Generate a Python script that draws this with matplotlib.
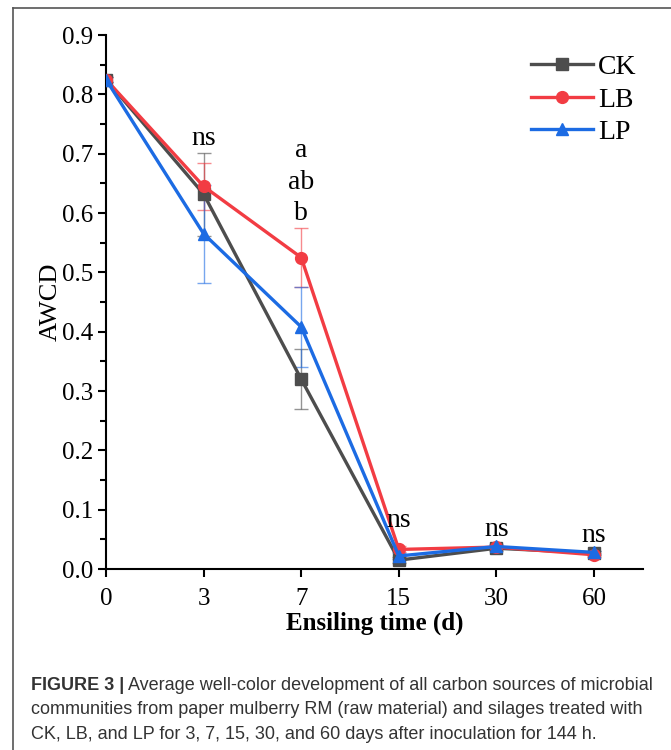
import matplotlib
matplotlib.use("Agg")
import matplotlib.pyplot as plt
from matplotlib.lines import Line2D
from matplotlib.ticker import MultipleLocator

days = ["0", "3", "7", "15", "30", "60"]
ck = [0.825, 0.632, 0.320, 0.015, 0.035, 0.027]
lb = [0.825, 0.645, 0.525, 0.033, 0.037, 0.024]
lp = [0.825, 0.565, 0.408, 0.022, 0.038, 0.028]
ck_err = [0.004, 0.070, 0.050, 0.005, 0.004, 0.003]
lb_err = [0.004, 0.040, 0.050, 0.005, 0.004, 0.003]
lp_err = [0.004, 0.083, 0.067, 0.005, 0.004, 0.003]

# significance letters: (x index, y value, text)
sig_labels = [(1, 0.726, "ns"), (2, 0.706, "a"), (2, 0.652, "ab"), (2, 0.600, "b"),
              (3, 0.081, "ns"), (4, 0.067, "ns"), (5, 0.057, "ns")]

caption_bold = "FIGURE 3 |"
caption_lines = [
    " Average well-color development of all carbon sources of microbial",
    "communities from paper mulberry RM (raw material) and silages treated with",
    "CK, LB, and LP for 3, 7, 15, 30, and 60 days after inoculation for 144 h.",
]

serif = ["Liberation Serif", "DejaVu Serif"]
colors = {"CK": "#4d4d4d", "LB": "#f23c43", "LP": "#1c6be3"}
markers = {"CK": "s", "LB": "o", "LP": "^"}

fig = plt.figure(figsize=(6.71, 7.5), dpi=100)
ax = fig.add_axes([0.158, 0.2413, 0.80, 0.712])

x = list(range(len(days)))
for name, vals, err in [("CK", ck, ck_err), ("LB", lb, lb_err), ("LP", lp, lp_err)]:
    c = colors[name]
    ax.errorbar(x, vals, yerr=err, fmt="none", ecolor=c, elinewidth=1.0,
                capsize=5, capthick=1.0, alpha=0.6, zorder=2)
    ax.plot(x, vals, color=c, lw=2.4, marker=markers[name], ms=8.5,
            label=name, zorder=3)

for xi, yv, t in sig_labels:
    ax.text(xi, yv, t, ha="center", va="center", fontsize=20, family=serif)

ax.set_xlim(0, 5.5)
ax.set_ylim(0, 0.9)
ax.set_xticks(x)
ax.set_xticklabels(days)
ax.yaxis.set_major_locator(MultipleLocator(0.1))
ax.yaxis.set_minor_locator(MultipleLocator(0.05))
ax.set_yticklabels([f"{v:.1f}" for v in ax.get_yticks()])
for s in ["top", "right"]:
    ax.spines[s].set_visible(False)
for s in ["left", "bottom"]:
    ax.spines[s].set_linewidth(1.5)
ax.tick_params(which="major", length=6, width=1.5, labelsize=18)
ax.tick_params(axis="x", which="major", pad=8)
ax.tick_params(which="minor", length=4, width=1.5)
for lab in ax.get_xticklabels() + ax.get_yticklabels():
    lab.set_family(serif)

ax.set_xlabel("Ensiling time (d)", fontsize=18, fontweight="bold", family=serif, labelpad=1)
ax.set_ylabel("AWCD", fontsize=19, family=serif, labelpad=0)

leg = ax.legend(loc="upper right", bbox_to_anchor=(1.035, 1.01), frameon=False,
                prop={"family": serif, "size": 20}, handlelength=2.2,
                handletextpad=0.2, labelspacing=0.25)

# frame lines on left and top of the figure panel
fig.add_artist(Line2D([13 / 671, 13 / 671], [0, 1 - 8 / 750], color="#555555", lw=1.2))
fig.add_artist(Line2D([13 / 671, 1], [1 - 8 / 750, 1 - 8 / 750], color="#555555", lw=1.2))

cap_font = ["Liberation Sans Narrow", "Liberation Sans", "DejaVu Sans"]
y0 = 1 - 690 / 750
t = fig.text(31 / 671, y0, caption_bold, fontsize=13, fontweight="bold",
             family=cap_font, color="#333333", va="baseline")
fig.canvas.draw()
bb = t.get_window_extent()
fig.text(bb.x1 / fig.bbox.width, y0, caption_lines[0], fontsize=13,
         family=cap_font, color="#333333", va="baseline")
for i, line in enumerate(caption_lines[1:], start=1):
    fig.text(31 / 671, y0 - i * 24.5 / 750, line, fontsize=13,
             family=cap_font, color="#333333", va="baseline")

fig.savefig("out.png", dpi=100)
